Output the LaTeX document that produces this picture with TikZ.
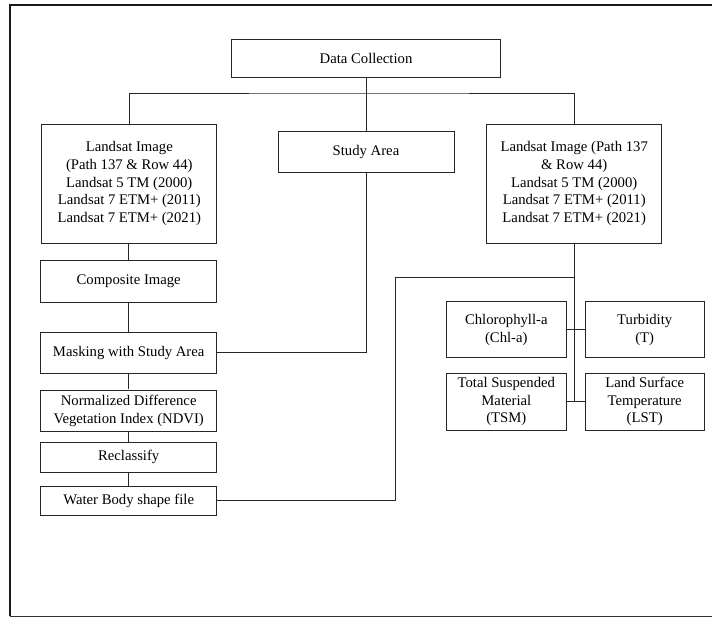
\documentclass[tikz,border=0pt]{standalone}
\usepackage{fontspec}
\setmainfont{Liberation Serif}
\usepackage{tikz}

\begin{document}
\begin{tikzpicture}[x=1pt,y=-1pt,
  box/.style={draw=black!85,line width=0.9pt,align=center,inner sep=0pt,
    font=\fontsize{14.7}{17.6}\selectfont},
  link/.style={draw=black!85,line width=0.9pt}]
\useasboundingbox (0,0) rectangle (712,617);
\draw[line width=1.8pt,black!90] (712,5) -- (10,5) -- (10,616);
\draw[line width=1pt,black!80] (10,616) -- (712,616);

\node[box,minimum width=269,minimum height=38] (collect) at (366,58) {Data Collection};
\node[box,minimum width=175,minimum height=119] (lsLeft) at (129.3,183.5)
  {Landsat Image\\(Path 137 \& Row 44)\\Landsat 5 TM (2000)\\Landsat 7 ETM+ (2011)\\Landsat 7 ETM+ (2021)};
\node[box,minimum width=176,minimum height=41] (study) at (366,151.5) {Study Area};
\node[box,minimum width=175,minimum height=119] (lsRight) at (574.2,183.5)
  {Landsat Image (Path 137\\\& Row 44)\\Landsat 5 TM (2000)\\Landsat 7 ETM+ (2011)\\Landsat 7 ETM+ (2021)};
\node[box,minimum width=176,minimum height=42] (composite) at (128.7,281) {Composite Image};
\node[box,minimum width=176,minimum height=41] (mask) at (128.7,352.5) {Masking with Study Area};
\node[box,minimum width=176,minimum height=41.7] (ndvi) at (128.7,410.8)
  {Normalized Difference\\Vegetation Index (NDVI)};
\node[box,minimum width=176,minimum height=29.3] (reclass) at (128.7,457.3) {Reclassify};
\node[box,minimum width=176,minimum height=29.7] (water) at (128.7,500.8) {Water Body shape file};
\node[box,minimum width=119.3,minimum height=56] (chla) at (506.3,329.7) {Chlorophyll-a\\(Chl-a)};
\node[box,minimum width=119.3,minimum height=56] (turb) at (644.7,329.7) {Turbidity\\(T)};
\node[box,minimum width=119.3,minimum height=56.7] (tsm) at (506.3,401.7)
  {Total Suspended\\Material\\(TSM)};
\node[box,minimum width=119.3,minimum height=56.7] (lst) at (644.7,401.7)
  {Land Surface\\Temperature\\(LST)};

\coordinate (bus) at (366,93);
\coordinate (tap) at (395,277);

\draw[link] (collect.south) -- (study.north);
\draw[link] (lsLeft.north) |- (bus) -| (lsRight.north);
\draw[link] (composite.north |- lsLeft.south) -- (composite.north);
\draw[link] (composite.south) -- (mask.north);
\draw[link] (mask.south) -- (ndvi.north);
\draw[link] (ndvi.south) -- (reclass.north);
\draw[link] (reclass.south) -- (water.north);
\draw[link] (study.south) |- (mask.east);
\draw[link] (lsRight.south) -- (lsRight.south |- lst.west);
\draw[link] (chla.east) -- (turb.west);
\draw[link] (tsm.east) -- (lst.west);
\draw[link] (water.east) -| (tap) -- (tap -| lsRight.south);
\end{tikzpicture}
\end{document}
